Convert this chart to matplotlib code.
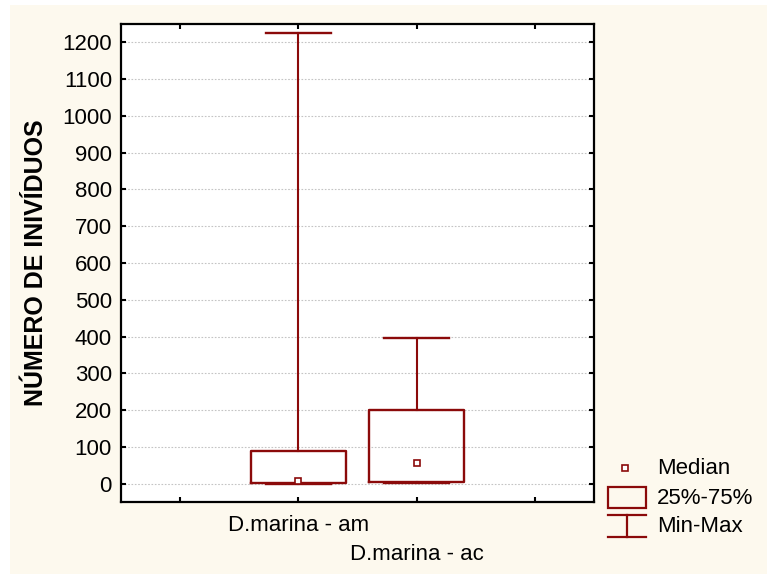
import matplotlib
matplotlib.use("Agg")
import matplotlib.pyplot as plt
from matplotlib.patches import Rectangle

plt.rcParams['font.family'] = ['Liberation Sans', 'DejaVu Sans']

# ---- data ----
categories = ["D.marina - am", "D.marina - ac"]
minimum = [0, 2]
q1 = [3, 5]
median = [8, 58]
q3 = [90, 201]
maximum = [1224, 396]
yticks = list(range(0, 1201, 100))
ylabel = "NÚMERO DE INIVÍDUOS"
legend_labels = ["Median", "25%-75%", "Min-Max"]

RED = "#8B0A0A"
BG = "#FDF9EE"

fig = plt.figure(figsize=(7.67, 5.74), dpi=100)
fig.patch.set_facecolor("white")
fig.patches.append(Rectangle((10 / 767, 0), 757 / 767, 569 / 574,
                             transform=fig.transFigure, facecolor=BG,
                             edgecolor="none", zorder=-10))

ax = fig.add_axes([121 / 767, 72 / 574, 473 / 767, 478 / 574])
ax.set_facecolor("white")

positions = [1, 2]
stats = []
for i, c in enumerate(categories):
    stats.append(dict(label=c, whislo=minimum[i], q1=q1[i], med=median[i],
                      q3=q3[i], whishi=maximum[i], fliers=[]))

ax.bxp(stats, positions=positions, widths=0.8, capwidths=0.55,
       showfliers=False,
       boxprops=dict(color=RED, linewidth=1.7),
       whiskerprops=dict(color=RED, linewidth=1.5),
       capprops=dict(color=RED, linewidth=1.7),
       medianprops=dict(visible=False), zorder=3)
ax.plot(positions, median, linestyle="none", marker="s", ms=5,
        mfc="white", mec=RED, mew=1.2, zorder=4)

ax.set_xlim(-0.5, 3.5)
ax.set_ylim(-49, 1249)
ax.set_yticks(yticks)
ax.set_yticklabels([str(v) for v in yticks])
# first category on major ticks, second (staggered lower) on a minor tick
ax.set_xticks([0, 1, 3])
ax.set_xticklabels(["", categories[0], ""])
ax.set_xticks([2], minor=True)
ax.set_xticklabels([categories[1]], minor=True)

ax.yaxis.grid(True, linestyle=(0, (1.5, 1.5)), color="#C4C4C4", linewidth=0.8)
ax.set_axisbelow(True)

ax.tick_params(axis="both", which="both", direction="in", length=3.5, width=1.5,
               labelsize=16, colors="black", top=True, right=True)
ax.tick_params(axis="y", pad=6.5)
ax.tick_params(axis="x", which="major", pad=9.5)
ax.tick_params(axis="x", which="minor", pad=30)
for s in ax.spines.values():
    s.set_linewidth(1.6)
    s.set_color("black")

ax.set_ylabel(ylabel, fontsize=18, fontweight="bold", labelpad=10)

# ---- legend (drawn in pixel space) ----
lg = fig.add_axes([0, 0, 1, 1], facecolor="none")
lg.set_xlim(0, 767)
lg.set_ylim(574, 0)
lg.axis("off")
lg.plot([625], [468], linestyle="none", marker="s", ms=4.5, mfc="white",
        mec=RED, mew=1.2)
lg.add_patch(Rectangle((608, 487), 38, 21, facecolor="none", edgecolor=RED,
                       linewidth=1.6))
lg.plot([608, 646], [515, 515], color=RED, lw=1.6)
lg.plot([608, 646], [537, 537], color=RED, lw=1.6)
lg.plot([627, 627], [515, 537], color=RED, lw=1.6)
for y, t in zip([469, 499, 527], legend_labels):
    lg.text(657, y, t, fontsize=16, va="center", ha="left", color="black")

fig.savefig("out.png", dpi=100, facecolor=fig.get_facecolor())
